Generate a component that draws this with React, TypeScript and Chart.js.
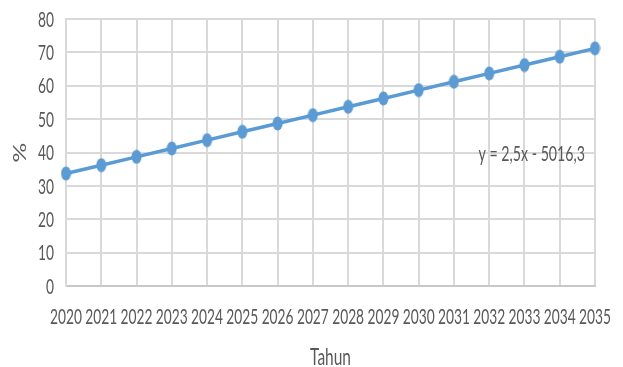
import React, { useEffect, useRef } from "react";
import { Chart, registerables } from "chart.js";

Chart.register(...registerables);

const years = ["2020", "2021", "2022", "2023", "2024", "2025", "2026", "2027", "2028", "2029", "2030", "2031", "2032", "2033", "2034", "2035"];
const values = [33.7, 36.2, 38.7, 41.2, 43.7, 46.2, 48.7, 51.2, 53.7, 56.2, 58.7, 61.2, 63.7, 66.2, 68.7, 71.2];
const yTicks = [0, 10, 20, 30, 40, 50, 60, 70, 80];
const equationText = "y = 2,5x - 5016,3";
const equationValue = 39.4;
const xTitle = "Tahun";
const yTitle = "%";

const FONT = "Lato, 'Open Sans', sans-serif";
const TEXT = "#595959";
const LINE = "#5B9BD5";
const SX = 0.86;
const SY = 1.3;

function drawText(ctx: CanvasRenderingContext2D, text: string, x: number, y: number, size: number, align: CanvasTextAlign, angle = 0) {
  ctx.save();
  ctx.translate(x, y);
  ctx.scale(SX, SY);
  ctx.rotate(angle);
  ctx.font = `${size}px ${FONT}`;
  ctx.fillStyle = TEXT;
  ctx.textAlign = align;
  ctx.textBaseline = "middle";
  ctx.fillText(text, 0, 0);
  ctx.restore();
}

const textPlugin = {
  id: "stretchedText",
  afterDraw(chart: any) {
    const { ctx, chartArea, scales } = chart;
    const xs = scales.x;
    const ys = scales.y;
    years.forEach((label, i) => {
      drawText(ctx, label, xs.getPixelForValue(i), chartArea.bottom + 31, 16, "center");
    });
    yTicks.forEach((v) => {
      drawText(ctx, String(v), chartArea.left - 12, ys.getPixelForValue(v) + 1, 16, "right");
    });
    drawText(ctx, xTitle, (chartArea.left + chartArea.right) / 2, chartArea.bottom + 71, 18, "center");
    drawText(ctx, yTitle, 21, (chartArea.top + chartArea.bottom) / 2, 19, "center", -Math.PI / 2);
    drawText(ctx, equationText, chartArea.right - 10, ys.getPixelForValue(equationValue), 16.5, "right");
  },
};

function makeDot() {
  const c = document.createElement("canvas");
  c.width = 11;
  c.height = 15;
  const g = c.getContext("2d")!;
  g.fillStyle = LINE;
  g.beginPath();
  g.ellipse(5.5, 7.5, 5, 7, 0, 0, Math.PI * 2);
  g.fill();
  return c;
}

export default function App() {
  const ref = useRef<HTMLCanvasElement>(null);
  useEffect(() => {
    if (!ref.current) return;
    const dot = makeDot();
    const chart = new Chart(ref.current, {
      type: "line",
      data: {
        labels: years,
        datasets: [
          {
            data: values,
            borderColor: LINE,
            backgroundColor: LINE,
            borderWidth: 3.5,
            pointStyle: dot as any,
            pointRadius: 5,
            tension: 0,
          },
        ],
      },
      options: {
        animation: false,
        responsive: true,
        maintainAspectRatio: false,
        layout: { padding: { top: 19, right: 28, bottom: 81, left: 66 } },
        plugins: { legend: { display: false }, tooltip: { enabled: false } },
        scales: {
          x: {
            type: "category",
            offset: false,
            grid: { color: "#d9d9d9", lineWidth: 2, drawTicks: false, offset: false },
            border: { color: "#c8c8c8", width: 2 },
            ticks: { display: false },
          },
          y: {
            min: 0,
            max: 80,
            afterBuildTicks: (axis: any) => {
              axis.ticks = yTicks.map((v) => ({ value: v }));
            },
            grid: { color: "#d9d9d9", lineWidth: 2, drawTicks: false },
            border: { color: "#d9d9d9", width: 2 },
            ticks: { display: false },
          },
        },
      },
      plugins: [textPlugin],
    });
    return () => chart.destroy();
  }, []);
  return (
    <div style={{ position: "fixed", left: 0, top: 0, width: 623, height: 367, background: "#fff" }}>
      <canvas ref={ref} />
    </div>
  );
}
